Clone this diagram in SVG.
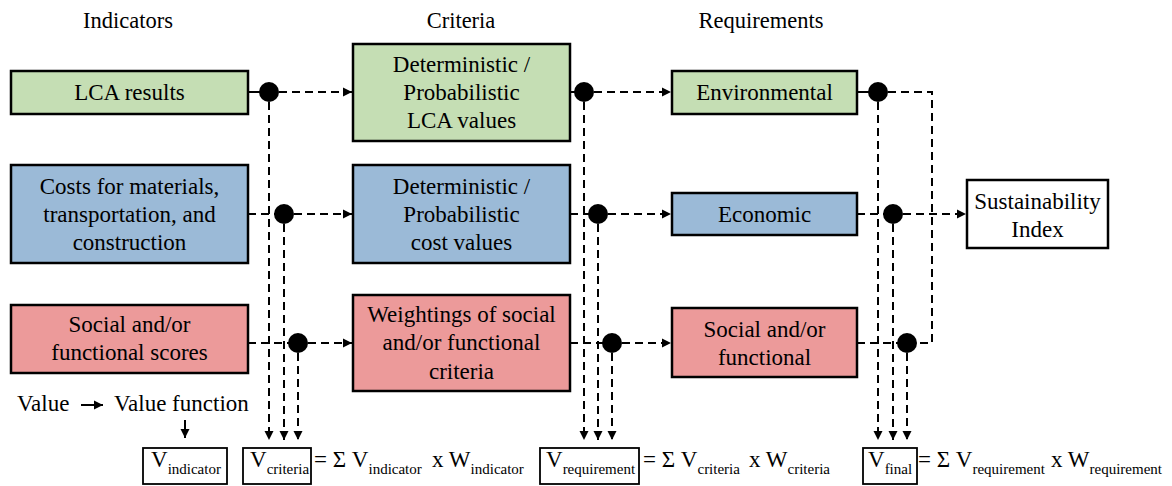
<svg xmlns="http://www.w3.org/2000/svg" width="1172" height="486" viewBox="0 0 1172 486">
  <style>
    .t { font-family: "Liberation Serif", "Times New Roman", serif; font-size: 23px; fill: #000; }
    .h { font-size: 22.5px; }
    .c { text-anchor: middle; }
    .sub { font-size: 15px; }
    .big { font-size: 23px; }
    .box { stroke: #000; stroke-width: 2.5; }
    .green { fill: #C5DEB4; }
    .blue { fill: #9BBAD7; }
    .pink { fill: #EC9A9A; }
    .white { fill: #fff; }
    .vbox { fill: #fff; stroke: #000; stroke-width: 1.8; }
    .dash { fill: none; stroke: #000; stroke-width: 2; stroke-dasharray: 8 5; }
    .solid { fill: none; stroke: #000; stroke-width: 2; }
    .dot { fill: #000; }
  </style>
  <defs>
    <marker id="arr" markerUnits="userSpaceOnUse" markerWidth="10" markerHeight="10" refX="9" refY="5" orient="auto">
      <path d="M0,0.5 L9,5 L0,9.5 z" fill="#000"/>
    </marker>
  </defs>

  <rect width="1172" height="486" fill="#fff"/>

  <!-- column headings -->
  <g id="headings">
    <text class="t h c" x="128" y="28">Indicators</text>
    <text class="t h c" x="461" y="28">Criteria</text>
    <text class="t h c" x="761" y="28">Requirements</text>
  </g>

  <!-- connectors -->
  <g id="connectors">
    <!-- indicator outputs -->
    <path class="solid" d="M248,92 H262"/>
    <path class="dash" d="M279,92 H352" marker-end="url(#arr)"/>
    <path class="dash" d="M248,214 H276"/>
    <path class="dash" d="M294,214 H352" marker-end="url(#arr)"/>
    <path class="dash" d="M248,343 H290"/>
    <path class="dash" d="M308,343 H352" marker-end="url(#arr)"/>
    <path class="dash" d="M269,102 V440" marker-end="url(#arr)"/>
    <path class="dash" d="M284,224 V440" marker-end="url(#arr)"/>
    <path class="dash" d="M298,353 V440" marker-end="url(#arr)"/>

    <!-- criteria outputs -->
    <path class="solid" d="M570,92 H577"/>
    <path class="dash" d="M594,92 H671" marker-end="url(#arr)"/>
    <path class="dash" d="M570,214 H590"/>
    <path class="dash" d="M608,214 H671" marker-end="url(#arr)"/>
    <path class="dash" d="M570,343 H604"/>
    <path class="dash" d="M622,343 H671" marker-end="url(#arr)"/>
    <path class="dash" d="M584,102 V440" marker-end="url(#arr)"/>
    <path class="dash" d="M598,224 V440" marker-end="url(#arr)"/>
    <path class="dash" d="M612,353 V440" marker-end="url(#arr)"/>

    <!-- requirement outputs -->
    <path class="solid" d="M857,92 H870"/>
    <path class="dash" d="M888,92 H932 V343 H917"/>
    <path class="dash" d="M857,214 H885"/>
    <path class="dash" d="M903,214 H966" marker-end="url(#arr)"/>
    <path class="dash" d="M857,343 H899"/>
    <path class="dash" d="M878,102 V440" marker-end="url(#arr)"/>
    <path class="dash" d="M893,224 V440" marker-end="url(#arr)"/>
    <path class="dash" d="M907,353 V440" marker-end="url(#arr)"/>

    <!-- value function legend arrows -->
    <path class="solid" d="M81,405 H103" marker-end="url(#arr)"/>
    <path class="solid" d="M185,420 V438" marker-end="url(#arr)"/>
  </g>

  <!-- junction dots -->
  <g id="junctions">
    <circle class="dot" cx="269" cy="92" r="10"/>
    <circle class="dot" cx="284" cy="214" r="10"/>
    <circle class="dot" cx="298" cy="343" r="10"/>
    <circle class="dot" cx="584" cy="92" r="10"/>
    <circle class="dot" cx="598" cy="214" r="10"/>
    <circle class="dot" cx="612" cy="343" r="10"/>
    <circle class="dot" cx="878" cy="92" r="10"/>
    <circle class="dot" cx="893" cy="214" r="10"/>
    <circle class="dot" cx="907" cy="343" r="10"/>
  </g>

  <!-- indicators -->
  <g id="ind-lca">
    <rect class="box green" x="11" y="71" width="237" height="43"/>
    <text class="t c" x="129.5" y="100">LCA results</text>
  </g>
  <g id="ind-costs">
    <rect class="box blue" x="11" y="165" width="237" height="98"/>
    <text class="t c" x="129.5" y="194">Costs for materials,</text>
    <text class="t c" x="129.5" y="222">transportation, and</text>
    <text class="t c" x="129.5" y="250">construction</text>
  </g>
  <g id="ind-social">
    <rect class="box pink" x="11" y="305" width="237" height="68"/>
    <text class="t c" x="129.5" y="332">Social and/or</text>
    <text class="t c" x="129.5" y="360">functional scores</text>
  </g>

  <!-- criteria -->
  <g id="crit-lca">
    <rect class="box green" x="353" y="44" width="217" height="97"/>
    <text class="t c" x="461.5" y="72">Deterministic /</text>
    <text class="t c" x="461.5" y="100">Probabilistic</text>
    <text class="t c" x="461.5" y="128">LCA values</text>
  </g>
  <g id="crit-cost">
    <rect class="box blue" x="353" y="165" width="217" height="98"/>
    <text class="t c" x="461.5" y="194">Deterministic /</text>
    <text class="t c" x="461.5" y="222">Probabilistic</text>
    <text class="t c" x="461.5" y="250">cost values</text>
  </g>
  <g id="crit-social">
    <rect class="box pink" x="353" y="295" width="217" height="96"/>
    <text class="t c" x="461.5" y="322">Weightings of social</text>
    <text class="t c" x="461.5" y="350">and/or functional</text>
    <text class="t c" x="461.5" y="379">criteria</text>
  </g>

  <!-- requirements -->
  <g id="req-env">
    <rect class="box green" x="672" y="71" width="185" height="43"/>
    <text class="t c" x="764.5" y="100">Environmental</text>
  </g>
  <g id="req-eco">
    <rect class="box blue" x="672" y="193" width="185" height="42"/>
    <text class="t c" x="764.5" y="222">Economic</text>
  </g>
  <g id="req-social">
    <rect class="box pink" x="672" y="308" width="185" height="69"/>
    <text class="t c" x="764.5" y="337">Social and/or</text>
    <text class="t c" x="764.5" y="365">functional</text>
  </g>

  <!-- result -->
  <g id="sustainability-index">
    <rect class="box white" x="967" y="180" width="141" height="68"/>
    <text class="t c" x="1037.5" y="209">Sustainability</text>
    <text class="t c" x="1037.5" y="237">Index</text>
  </g>

  <!-- value function legend -->
  <g id="legend">
    <text class="t" x="17" y="411">Value</text>
    <text class="t" x="114" y="411">Value function</text>
  </g>

  <!-- aggregation formulas -->
  <g id="v-indicator">
    <rect class="vbox" x="143" y="448" width="84" height="36"/>
    <text class="t big" x="151" y="467">V<tspan class="sub" dy="7">indicator</tspan></text>
  </g>
  <g id="v-criteria">
    <rect class="vbox" x="243" y="448" width="68" height="36"/>
    <text class="t big" x="250" y="467">V<tspan class="sub" dy="7">criteria</tspan></text>
    <text class="t big" x="314" y="467">= Σ V<tspan class="sub" dy="7">indicator</tspan><tspan x="432" dy="-7">x W</tspan><tspan class="sub" dy="7">indicator</tspan></text>
  </g>
  <g id="v-requirement">
    <rect class="vbox" x="540" y="448" width="99" height="36"/>
    <text class="t big" x="546" y="467">V<tspan class="sub" dy="7">requirement</tspan></text>
    <text class="t big" x="643" y="467">= Σ V<tspan class="sub" dy="7">criteria</tspan><tspan x="749" dy="-7">x W</tspan><tspan class="sub" dy="7">criteria</tspan></text>
  </g>
  <g id="v-final">
    <rect class="vbox" x="863" y="448" width="54" height="36"/>
    <text class="t big" x="868" y="467">V<tspan class="sub" dy="7">final</tspan></text>
    <text class="t big" x="918" y="467">= Σ V<tspan class="sub" dy="7">requirement</tspan><tspan x="1051" dy="-7">x W</tspan><tspan class="sub" dy="7">requirement</tspan></text>
  </g>
</svg>
